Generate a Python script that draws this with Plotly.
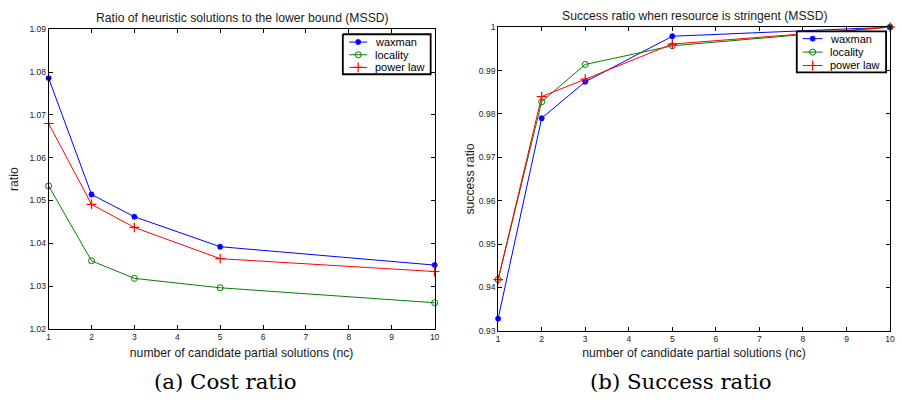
import plotly.graph_objects as go

nc = [1, 2, 3, 5, 10]
series_names = ["waxman", "locality", "power law"]

cost_waxman = [1.0786, 1.0514, 1.0462, 1.0392, 1.0349]
cost_locality = [1.0534, 1.0359, 1.0318, 1.0296, 1.0261]
cost_powerlaw = [1.0680, 1.0491, 1.0437, 1.0364, 1.0334]

succ_waxman = [0.9328, 0.9790, 0.9874, 0.9979, 1.0]
succ_locality = [0.9418, 0.9828, 0.9914, 0.9957, 1.0]
succ_powerlaw = [0.9418, 0.9840, 0.9880, 0.9961, 1.0]

cost_ticks = [1.02, 1.03, 1.04, 1.05, 1.06, 1.07, 1.08, 1.09]
succ_ticks = [0.93, 0.94, 0.95, 0.96, 0.97, 0.98, 0.99, 1.0]
succ_ticklabels = ["0.93", "0.94", "0.95", "0.96", "0.97", "0.98", "0.99", "1"]
x_ticks = list(range(1, 11))

colors = ["#0000ff", "#008000", "#ff0000"]
symbols = ["asterisk-open", "circle-open", "cross-thin-open"]
msizes = [5, 6, 7]
mwidths = [1.6, 1, 1.2]

F = "Liberation Sans, Arial, Helvetica, sans-serif"
TXT = "#1a1a1a"
fig = go.Figure()

cost = [cost_waxman, cost_locality, cost_powerlaw]
succ = [succ_waxman, succ_locality, succ_powerlaw]
for i in range(3):
    fig.add_trace(go.Scatter(x=nc, y=cost[i], name=series_names[i], mode="lines+markers",
                             line=dict(color=colors[i], width=1),
                             marker=dict(symbol=symbols[i], size=msizes[i], color=colors[i],
                                         line=dict(color=colors[i], width=mwidths[i])),
                             xaxis="x", yaxis="y", showlegend=False, cliponaxis=False))
for i in range(3):
    fig.add_trace(go.Scatter(x=nc, y=succ[i], name=series_names[i], mode="lines+markers",
                             line=dict(color=colors[i], width=1),
                             marker=dict(symbol=symbols[i], size=msizes[i], color=colors[i],
                                         line=dict(color=colors[i], width=mwidths[i])),
                             xaxis="x2", yaxis="y2", showlegend=False, cliponaxis=False))

# legend boxes drawn on a pixel-unit overlay subplot
legend_boxes = [
    dict(x0=343.5, x1=432, y0=30, y1=71, lx0=350, lx1=368, tx=374, rows=[38, 51, 64]),
    dict(x0=801, x1=891, y0=27, y1=69, lx0=807, lx1=827, tx=832, rows=[34.5, 48.3, 62]),
]
annotations = []
for lb in legend_boxes:
    fig.add_trace(go.Scatter(x=[lb["x0"], lb["x1"], lb["x1"], lb["x0"], lb["x0"]],
                             y=[lb["y0"], lb["y0"], lb["y1"], lb["y1"], lb["y0"]],
                             mode="lines", fill="toself", fillcolor="white",
                             line=dict(color="black", width=1.8), hoverinfo="skip",
                             xaxis="x3", yaxis="y3", showlegend=False))
    for i in range(3):
        r = lb["rows"][i]
        fig.add_trace(go.Scatter(x=[lb["lx0"], lb["lx1"]], y=[r, r], mode="lines",
                                 line=dict(color=colors[i], width=1), hoverinfo="skip",
                                 xaxis="x3", yaxis="y3", showlegend=False))
        fig.add_trace(go.Scatter(x=[(lb["lx0"] + lb["lx1"]) / 2], y=[r], mode="markers",
                                 marker=dict(symbol=symbols[i], size=msizes[i], color=colors[i],
                                             line=dict(color=colors[i], width=mwidths[i])),
                                 hoverinfo="skip", xaxis="x3", yaxis="y3", showlegend=False))
        annotations.append(dict(text=series_names[i], x=lb["tx"], y=r, xref="x3", yref="y3",
                                xanchor="left", yanchor="middle", showarrow=False,
                                font=dict(family=F, size=11, color="black")))

axcommon = dict(showline=True, linecolor="black", linewidth=1, mirror="allticks",
                ticks="inside", ticklen=4, tickcolor="black", showgrid=False, zeroline=False,
                tickfont=dict(family=F, size=8.5, color=TXT))
tfont = dict(family=F, size=12.2, color=TXT)

annotations += [
    dict(text="Ratio of heuristic solutions to the lower bound (MSSD)", x=242, y=13,
         xref="x3", yref="y3", showarrow=False, xanchor="center", yanchor="middle",
         font=dict(family=F, size=12.2, color=TXT)),
    dict(text="Success ratio when resource is stringent (MSSD)", x=698, y=11,
         xref="x3", yref="y3", showarrow=False, xanchor="center", yanchor="middle",
         font=dict(family=F, size=12.2, color=TXT)),
    dict(text="(a) Cost ratio", x=225, y=386, xref="x3", yref="y3",
         showarrow=False, xanchor="center", yanchor="middle",
         font=dict(family="DejaVu Serif, serif", size=21.3, color="black")),
    dict(text="(b) Success ratio", x=684, y=386, xref="x3", yref="y3",
         showarrow=False, xanchor="center", yanchor="middle",
         font=dict(family="DejaVu Serif, serif", size=21.3, color="black")),
]

fig.update_layout(
    width=902, height=407, margin=dict(l=0, r=0, t=0, b=0),
    paper_bgcolor="white", plot_bgcolor="rgba(0,0,0,0)",
    xaxis=dict(domain=[47/902, 436/902], range=[1, 10], tickvals=x_ticks, anchor="y",
               title=dict(text="number of candidate partial solutions (nc)", font=tfont, standoff=7),
               **axcommon),
    yaxis=dict(domain=[1 - 332/407, 1 - 25/407], range=[1.02, 1.09], tickvals=cost_ticks,
               ticktext=[f"{t:.2f}" for t in cost_ticks], anchor="x",
               title=dict(text="ratio", font=tfont, standoff=8),
               **axcommon),
    xaxis2=dict(domain=[500/902, 895/902], range=[1, 10], tickvals=x_ticks, anchor="y2",
                title=dict(text="number of candidate partial solutions (nc)", font=tfont, standoff=5),
                **axcommon),
    yaxis2=dict(domain=[1 - 334/407, 1 - 22.7/407], range=[0.93, 1.0], tickvals=succ_ticks,
                ticktext=succ_ticklabels, anchor="x2",
                title=dict(text="success ratio", font=tfont, standoff=1),
                **axcommon),
    xaxis3=dict(domain=[0, 1], range=[0, 902], visible=False, anchor="y3", fixedrange=True),
    yaxis3=dict(domain=[0, 1], range=[407, 0], visible=False, anchor="x3", fixedrange=True),
    annotations=annotations,
)

fig.write_html("out.html", config={"displayModeBar": False},
               post_script="document.body.style.margin='0';document.body.style.overflow='hidden';")
